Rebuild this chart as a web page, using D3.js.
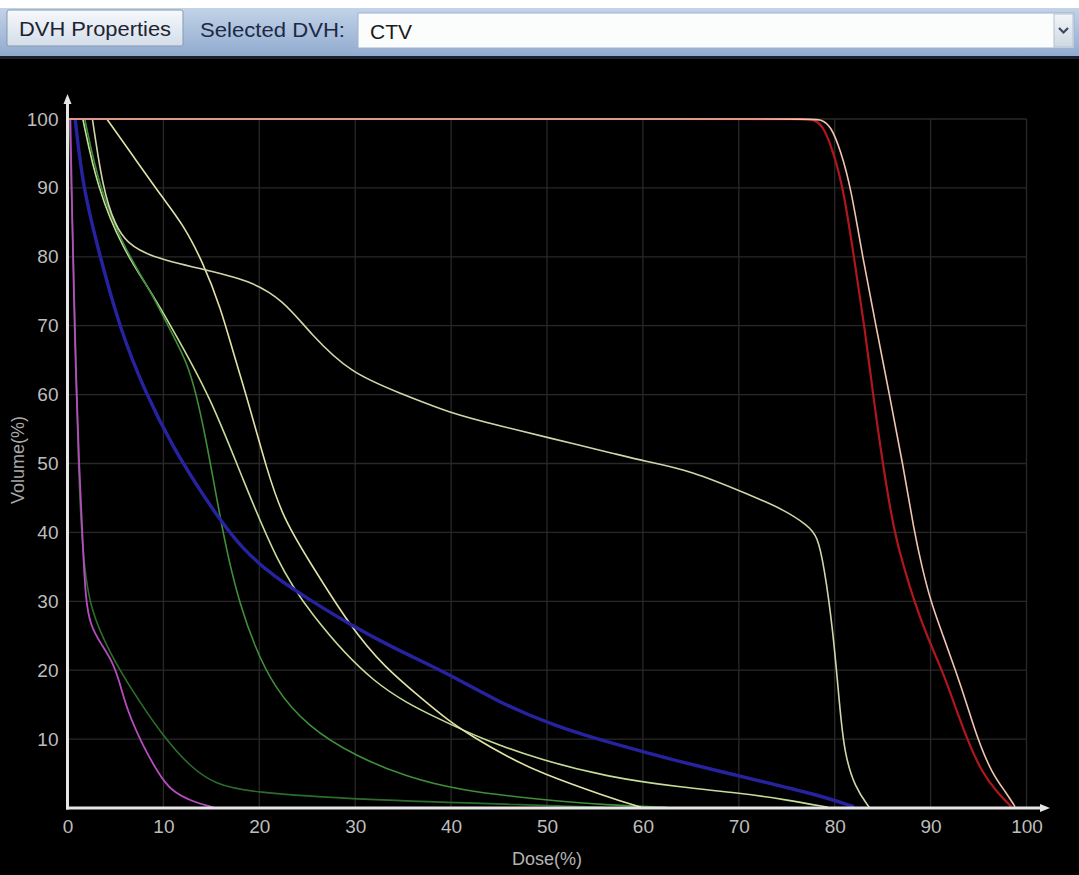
<!DOCTYPE html>
<html>
<head>
<meta charset="utf-8">
<script src="https://cdn.jsdelivr.net/npm/d3@7"></script>
<style>
  html, body { margin: 0; padding: 0; background: #000; }
  svg { display: block; }
</style>
</head>
<body>
<svg id="chart" width="1079" height="875"></svg>
<script>
// ---- data (dose %, volume %) ----
const xTicks = [0, 10, 20, 30, 40, 50, 60, 70, 80, 90, 100];
const yTicks = [10, 20, 30, 40, 50, 60, 70, 80, 90, 100];

const ptvRed = [[0,100],[76.5,100],[77.8,100],[78.8,99],[79.8,95.5],[80.9,90],[82,80],[83.1,70],[84,60],[85,50],[86.2,40],[87.2,35],[88.3,30],[89.6,25],[91.2,20],[92.5,15],[93.8,10],[95.4,5],[97,2.2],[98.4,0.2]];
const ctvLight = [[0,100],[77.3,100],[78.6,100],[79.6,99],[80.6,95.5],[81.7,90],[82.9,80],[84.3,70],[85.7,60],[87.1,50],[88.3,40],[89.1,35],[90,30],[91.3,25],[92.6,20],[93.8,15],[94.9,10],[96.4,5],[97.9,2.2],[98.8,0.2]];
const blueOrgan = [[0.8,100],[1.6,90],[3.4,80],[5.5,69.4],[8.2,60],[11,52.4],[13.4,47],[15.8,42],[18.3,37.5],[21.5,33.6],[25.5,30],[29.5,26.6],[34,23.2],[39.6,19.6],[45,15.3],[51,11.8],[57,9.3],[63,7],[72,4],[78,2],[82,0.2]];
const magentaOrgan = [[0.3,100],[0.5,85],[0.7,72],[0.9,62],[1.2,50],[1.6,38],[1.9,30],[2.4,26.5],[3.4,24],[4.6,21.5],[5.4,18.5],[6.2,14.2],[7.9,8.9],[9.5,5],[10.7,2.6],[13,0.9],[15.2,0.1]];
const darkGreen1 = [[0.2,100],[0.4,90],[0.6,80],[0.8,70],[1.1,50],[1.6,36],[2.4,28.7],[4.4,22.5],[6.9,16.7],[9.7,10.9],[12.8,5.9],[15.5,3.4],[19,2.3],[30.2,1.2],[49.3,0.4],[56,0.1]];
const darkGreen2 = [[1.8,100],[3.3,90],[6,81],[8.6,75.2],[10.7,69.4],[12.5,64.6],[13.5,59.7],[14.6,52.4],[15.8,43],[16.8,36],[18,29.5],[19.5,23.5],[21.5,17.6],[25,11.8],[30.2,7.4],[35.4,4.5],[40.7,2.6],[49.3,1.2],[56.3,0.4],[62.5,0.1]];
const lightGreen = [[1.6,100],[3.1,90],[5.8,81],[8.6,75.2],[11,69.4],[14.9,59.7],[18.3,47.6],[21.9,35.6],[25,28.7],[31.9,17.6],[38.9,12.8],[43.4,9.9],[49.3,7],[56.3,4.5],[64,3],[69.9,2.2],[75,1.2],[79.3,0.1]];
const yellowOrgan = [[4.1,100],[6.9,94.5],[10,88.4],[12,84.8],[14.1,79.3],[16,72.5],[17.3,66],[18.7,59.7],[20.8,49],[22.5,42],[25.3,35.6],[29.5,26.3],[33,20.5],[37.1,15.7],[39.6,12.8],[42.3,10.3],[45.9,7.4],[49.3,5.1],[56.3,1.6],[59.8,0.1]];
const plateauOrgan = [[2.6,100],[3.7,89.7],[5,84.5],[6.2,82],[8.6,80],[13.8,78.3],[19,76.6],[22.5,73.7],[25.3,68.9],[29.5,63.1],[34.7,60.2],[39.9,57.3],[45,55.5],[50,53.8],[57.7,51.2],[60,50.4],[65,49],[71.2,45.4],[74.7,43.3],[77.2,41],[78.2,39.5],[78.9,35],[79.8,26.1],[80.5,15],[81,8],[82.1,3],[83.6,0.1]];

const series = [
  { data: darkGreen1,   color: "#2c6e2c", width: 1.6 },
  { data: lightGreen,   color: "#c6dc98", width: 1.6 },
  { data: darkGreen2,   color: "#3f8f3a", width: 1.6 },
  { data: yellowOrgan,  color: "#e2e2a6", width: 1.6 },
  { data: plateauOrgan, color: "#d4d4a8", width: 1.6 },
  { data: blueOrgan,    color: "#2622a0", width: 3.4 },
  { data: magentaOrgan, color: "#b84cc0", width: 1.8 },
  { data: ptvRed,       color: "#b0161c", width: 2.2 },
  { data: ctvLight,     color: "#f0c4ae", width: 1.6 }
];

const svg = d3.select("#chart");
const W = 1079, H = 875;

// ---- top toolbar ----
const defs = svg.append("defs");
const barGrad = defs.append("linearGradient").attr("id","barGrad").attr("x1",0).attr("y1",0).attr("x2",0).attr("y2",1);
barGrad.append("stop").attr("offset","0%").attr("stop-color","#c3d3e8");
barGrad.append("stop").attr("offset","100%").attr("stop-color","#8ea9cf");
const btnGrad = defs.append("linearGradient").attr("id","btnGrad").attr("x1",0).attr("y1",0).attr("x2",0).attr("y2",1);
btnGrad.append("stop").attr("offset","0%").attr("stop-color","#f6f9fc");
btnGrad.append("stop").attr("offset","100%").attr("stop-color","#d3dde9");
const ddGrad = defs.append("linearGradient").attr("id","ddGrad").attr("x1",0).attr("y1",0).attr("x2",0).attr("y2",1);
ddGrad.append("stop").attr("offset","0%").attr("stop-color","#f2f5f8");
ddGrad.append("stop").attr("offset","100%").attr("stop-color","#cfd8e2");

const uiFont = "Liberation Sans, Arial, sans-serif";
svg.append("rect").attr("x",0).attr("y",0).attr("width",W).attr("height",8).attr("fill","#ffffff");
svg.append("rect").attr("x",0).attr("y",8).attr("width",W).attr("height",50).attr("fill","url(#barGrad)");
svg.append("rect").attr("x",0).attr("y",56).attr("width",W).attr("height",3).attr("fill","#1a2230");
svg.append("rect").attr("x",0).attr("y",59).attr("width",W).attr("height",H-59).attr("fill","#000");

svg.append("rect").attr("x",7).attr("y",10).attr("width",176).attr("height",36).attr("rx",2)
  .attr("fill","url(#btnGrad)").attr("stroke","#8899b0").attr("stroke-width",1);
svg.append("text").attr("x",95).attr("y",36).attr("text-anchor","middle")
  .attr("font-family",uiFont).attr("font-size",21).attr("textLength",152).attr("lengthAdjust","spacingAndGlyphs")
  .attr("fill","#1d2330").text("DVH Properties");
svg.append("text").attr("x",200).attr("y",37)
  .attr("font-family",uiFont).attr("font-size",21).attr("textLength",145).attr("lengthAdjust","spacingAndGlyphs")
  .attr("fill","#1c2a44").text("Selected DVH:");
svg.append("rect").attr("x",358).attr("y",13).attr("width",716).attr("height",35)
  .attr("fill","#fbfdfd").attr("stroke","#9fb3cc").attr("stroke-width",1);
svg.append("text").attr("x",370).attr("y",39)
  .attr("font-family",uiFont).attr("font-size",21)
  .attr("fill","#1a1a1a").text("CTV");
svg.append("rect").attr("x",1054).attr("y",14).attr("width",19).attr("height",33)
  .attr("fill","url(#ddGrad)").attr("stroke","#b4c2d2").attr("stroke-width",1);
svg.append("path").attr("d","M1059,28 L1063.5,32.5 L1068,28").attr("fill","none")
  .attr("stroke","#3a4a5e").attr("stroke-width",2.2);

// ---- chart ----
const x = d3.scaleLinear().domain([0,100]).range([67.5,1026.5]);
const y = d3.scaleLinear().domain([0,100]).range([808,119]);

const grid = svg.append("g");
grid.selectAll("line.v").data(xTicks.filter(d=>d>0)).join("line")
  .attr("x1",d=>x(d)).attr("x2",d=>x(d)).attr("y1",y(0)).attr("y2",y(100))
  .attr("stroke","#282828").attr("stroke-width",1.3);
grid.selectAll("line.h").data(yTicks).join("line")
  .attr("x1",x(0)).attr("x2",x(100)).attr("y1",d=>y(d)).attr("y2",d=>y(d))
  .attr("stroke","#282828").attr("stroke-width",1.3);

const line = d3.line().x(d=>x(d[0])).y(d=>y(d[1])).curve(d3.curveBasis);

const glow = defs.append("filter").attr("id","glow").attr("x","-5%").attr("y","-5%").attr("width","110%").attr("height","110%");
glow.append("feGaussianBlur").attr("stdDeviation",0.6);

svg.append("g").selectAll("path").data(series).join("path")
  .attr("d",d=>line(d.data)).attr("fill","none")
  .attr("stroke",d=>d.color).attr("stroke-width",d=>d.width)
  .attr("stroke-linejoin","round").attr("filter","url(#glow)");

// axes with arrows
const axisColor = "#e6e6e6";
svg.append("line").attr("x1",x(0)).attr("x2",x(0)).attr("y1",y(0)+1.5).attr("y2",98)
  .attr("stroke",axisColor).attr("stroke-width",3);
svg.append("path").attr("d",`M${x(0)-4},${104} L${x(0)},${94} L${x(0)+4},${104} Z`).attr("fill",axisColor);
svg.append("line").attr("x1",x(0)-1.5).attr("x2",1044).attr("y1",y(0)).attr("y2",y(0))
  .attr("stroke",axisColor).attr("stroke-width",3);
svg.append("path").attr("d",`M1040,${y(0)-4} L1050,${y(0)} L1040,${y(0)+4} Z`).attr("fill",axisColor);

const tickFont = "Liberation Sans, Arial, sans-serif";
const xAxis = d3.axisBottom(x).tickValues(xTicks).tickSize(0).tickPadding(0).tickFormat(d3.format("d"));
const gx = svg.append("g").attr("transform",`translate(0,${y(0)+10})`).call(xAxis);
gx.select(".domain").remove();
gx.selectAll("text").attr("font-family",tickFont).attr("font-size",19).attr("fill","#bdbdbd").attr("dy","0.8em");

const yAxis = d3.axisLeft(y).tickValues(yTicks).tickSize(0).tickPadding(9).tickFormat(d3.format("d"));
const gy = svg.append("g").attr("transform",`translate(${x(0)},0)`).call(yAxis);
gy.select(".domain").remove();
gy.selectAll("text").attr("font-family",tickFont).attr("font-size",19).attr("fill","#bdbdbd");

svg.append("text").attr("x",547).attr("y",865).attr("text-anchor","middle")
  .attr("font-family",tickFont).attr("font-size",18).attr("fill","#b4b4b4").text("Dose(%)");
svg.append("text").attr("transform","translate(24,460) rotate(-90)").attr("text-anchor","middle")
  .attr("font-family",tickFont).attr("font-size",18).attr("fill","#a8a8a8").text("Volume(%)");
</script>
</body>
</html>
